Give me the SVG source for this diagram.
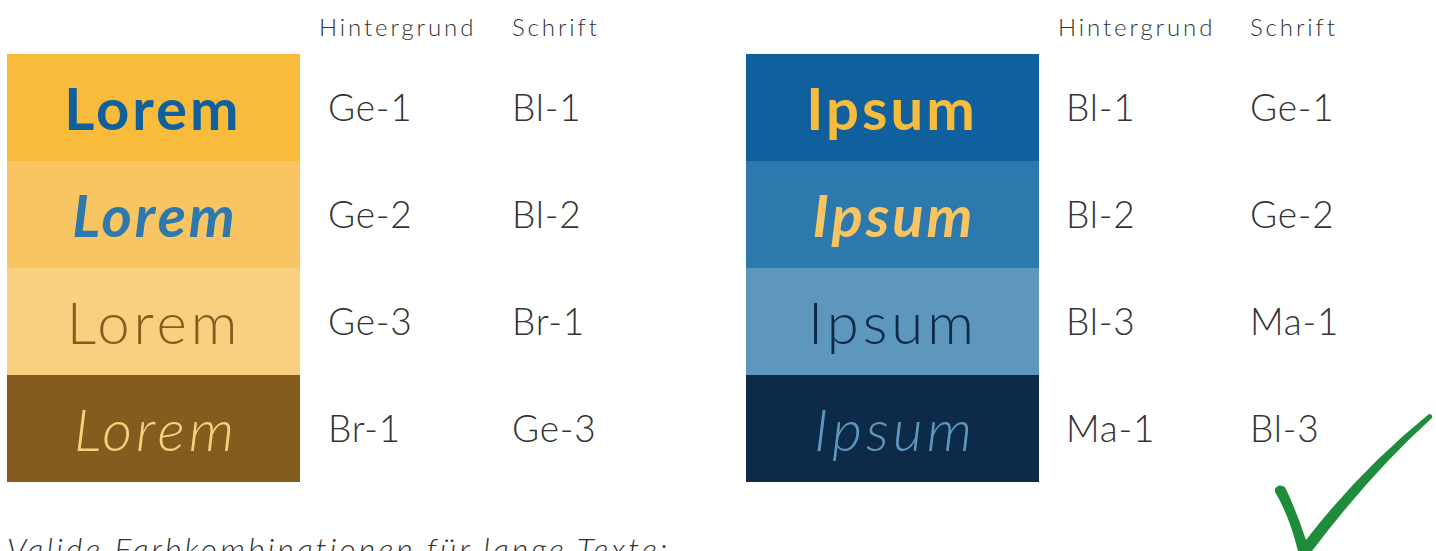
<svg xmlns="http://www.w3.org/2000/svg" width="1436" height="551" viewBox="0 0 1436 551">
<style>
.hdr{font-family:Lato,"Open Sans",sans-serif;font-weight:300;font-size:24px;letter-spacing:2.9px;fill:#333}
.lbl{font-family:Lato,"Open Sans",sans-serif;font-weight:300;font-size:37px;letter-spacing:0.8px;fill:#333}
.big{font-family:Lato,"Open Sans",sans-serif;font-size:58px;letter-spacing:3px;text-anchor:middle}
.b{font-weight:700}
.l{font-weight:300;letter-spacing:4px}
.i{font-style:italic}
.note{font-family:Lato,"Open Sans",sans-serif;font-weight:300;font-style:italic;font-size:32px;letter-spacing:3px;fill:#333}
</style>
<rect width="1436" height="551" fill="#fff"/>
<g id="headers">
<text class="hdr" x="319" y="36">Hintergrund</text>
<text class="hdr" x="512" y="36">Schrift</text>
<text class="hdr" x="1058" y="36">Hintergrund</text>
<text class="hdr" x="1250" y="36">Schrift</text>
</g>
<g id="lorem1"><rect x="7" y="54" width="293" height="107" fill="#F8BB3B"/><text class="big b" x="153" y="130" fill="#10609E">Lorem</text><text class="lbl" x="328" y="121">Ge-1</text><text class="lbl" x="512" y="121">Bl-1</text></g>
<g id="lorem2"><rect x="7" y="161" width="293" height="107" fill="#F9C562"/><text class="big b i" x="155" y="237" fill="#2D79AD">Lorem</text><text class="lbl" x="328" y="228">Ge-2</text><text class="lbl" x="512" y="228">Bl-2</text></g>
<g id="lorem3"><rect x="7" y="268" width="293" height="107" fill="#F8D07F"/><text class="big l" x="154" y="344" fill="#845C1E">Lorem</text><text class="lbl" x="328" y="335">Ge-3</text><text class="lbl" x="512" y="335">Br-1</text></g>
<g id="lorem4"><rect x="7" y="375" width="293" height="107" fill="#845C1E"/><text class="big l i" x="156" y="451" fill="#F8D07F">Lorem</text><text class="lbl" x="328" y="442">Br-1</text><text class="lbl" x="512" y="442">Ge-3</text></g>
<g id="ipsum1"><rect x="746" y="54" width="293" height="107" fill="#10609E"/><text class="big b" x="892" y="130" fill="#F8BB3B">Ipsum</text><text class="lbl" x="1066" y="121">Bl-1</text><text class="lbl" x="1250" y="121">Ge-1</text></g>
<g id="ipsum2"><rect x="746" y="161" width="293" height="107" fill="#2D79AD"/><text class="big b i" x="894" y="237" fill="#F9C562">Ipsum</text><text class="lbl" x="1066" y="228">Bl-2</text><text class="lbl" x="1250" y="228">Ge-2</text></g>
<g id="ipsum3"><rect x="746" y="268" width="293" height="107" fill="#5E97BD"/><text class="big l" x="893" y="344" fill="#0D2A48">Ipsum</text><text class="lbl" x="1066" y="335">Bl-3</text><text class="lbl" x="1250" y="335">Ma-1</text></g>
<g id="ipsum4"><rect x="746" y="375" width="293" height="107" fill="#0D2A48"/><text class="big l i" x="895" y="451" fill="#5E97BD">Ipsum</text><text class="lbl" x="1066" y="442">Ma-1</text><text class="lbl" x="1250" y="442">Bl-3</text></g>
<g id="check"><path d="M1275,489 Q1278,483 1285,487 Q1296,510 1306,540 Q1360,470 1429,414 Q1433,414 1432,418 Q1372,472 1312,551 L1298,551 Q1289,515 1275,492 Z" fill="#1E8C3A"/></g>
<text class="note" x="7" y="561">Valide Farbkombinationen für lange Texte:</text>
</svg>
